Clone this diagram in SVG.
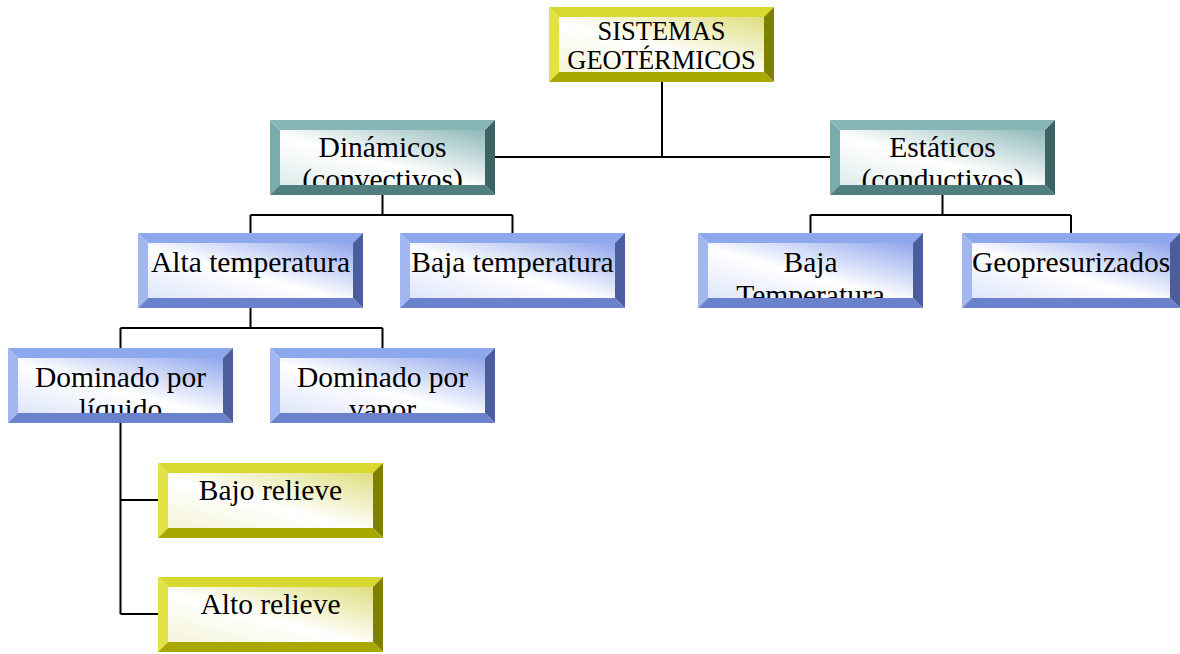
<svg xmlns="http://www.w3.org/2000/svg" xmlns:xlink="http://www.w3.org/1999/xlink" width="1180" height="654" viewBox="0 0 1180 654">
<style>
text{font-family:"Liberation Serif","Times New Roman",serif;font-size:29.5px;fill:#000;text-anchor:middle}
.sm{font-size:26.5px}
.c{stroke:#000;stroke-width:2;fill:none}
</style>
<defs>
<linearGradient id="gY" x1="1" y1="0" x2="0" y2="1"><stop offset="0" stop-color="#dede80"/><stop offset="0.55" stop-color="#ffffff"/><stop offset="1" stop-color="#f4f4d8"/></linearGradient>
<linearGradient id="gT" x1="1" y1="0" x2="0" y2="1"><stop offset="0" stop-color="#8fb8b8"/><stop offset="0.55" stop-color="#ffffff"/><stop offset="1" stop-color="#e0ecec"/></linearGradient>
<linearGradient id="gB" x1="1" y1="0" x2="0" y2="1"><stop offset="0" stop-color="#90a6ec"/><stop offset="0.55" stop-color="#ffffff"/><stop offset="1" stop-color="#dfe6fb"/></linearGradient>
<rect id="faceY" x="10" y="10" width="205" height="55" fill="url(#gY)"/>
<rect id="faceT" x="10" y="10" width="205" height="55" fill="url(#gT)"/>
<rect id="faceB" x="10" y="10" width="205" height="55" fill="url(#gB)"/>
<rect id="faceB2" x="10" y="10" width="198" height="55" fill="url(#gB)"/>
<g id="frameY">
<polygon points="0,0 225,0 215,10 10,10" fill="#d8d830"/>
<polygon points="0,0 10,10 10,65 0,75" fill="#e2e244"/>
<polygon points="225,0 225,75 215,65 215,10" fill="#808000"/>
<polygon points="0,75 10,65 215,65 225,75" fill="#a8a800"/>
</g>
<g id="frameT">
<polygon points="0,0 225,0 215,10 10,10" fill="#88b6b6"/>
<polygon points="0,0 10,10 10,65 0,75" fill="#7aacac"/>
<polygon points="225,0 225,75 215,65 215,10" fill="#3d6464"/>
<polygon points="0,75 10,65 215,65 225,75" fill="#4f7f7f"/>
</g>
<g id="frameB">
<polygon points="0,0 225,0 215,10 10,10" fill="#8ea8ee"/>
<polygon points="0,0 10,10 10,65 0,75" fill="#a2b7f2"/>
<polygon points="225,0 225,75 215,65 215,10" fill="#4b5d9c"/>
<polygon points="0,75 10,65 215,65 225,75" fill="#6a82cc"/>
</g>
<g id="frameB2">
<polygon points="0,0 218,0 208,10 10,10" fill="#8ea8ee"/>
<polygon points="0,0 10,10 10,65 0,75" fill="#a2b7f2"/>
<polygon points="218,0 218,75 208,65 208,10" fill="#4b5d9c"/>
<polygon points="0,75 10,65 208,65 218,75" fill="#6a82cc"/>
</g>
</defs>
<rect width="1180" height="654" fill="#fff"/>
<g id="connectors">
<path class="c" d="M662,82 V157 M495,157 H830"/>
<path class="c" d="M382.5,195 V215 M250.5,215 H512.5 M250.5,215 V233 M512.5,215 V233"/>
<path class="c" d="M942.5,195 V215 M810.5,215 H1071 M810.5,215 V233 M1071,215 V233"/>
<path class="c" d="M250.5,308 V328 M120.5,328 H382.5 M120.5,328 V348 M382.5,328 V348"/>
<path class="c" d="M120.5,423 V614 M120.5,500 H158 M120.5,614 H158"/>
</g>
<g id="n-sistemas"><svg x="549" y="7" width="225" height="75"><use xlink:href="#faceY"/><text class="sm" x="112.5" y="33">SISTEMAS</text><text class="sm" x="112.5" y="62">GEOTÉRMICOS</text><use xlink:href="#frameY"/></svg></g>
<g id="n-dinamicos"><svg x="270" y="120" width="225" height="75"><use xlink:href="#faceT"/><text x="112.5" y="37">Dinámicos</text><text x="112.5" y="69">(convectivos)</text><use xlink:href="#frameT"/></svg></g>
<g id="n-estaticos"><svg x="830" y="120" width="225" height="75"><use xlink:href="#faceT"/><text x="112.5" y="37">Estáticos</text><text x="112.5" y="69">(conductivos)</text><use xlink:href="#frameT"/></svg></g>
<g id="n-alta"><svg x="138" y="233" width="225" height="75"><use xlink:href="#faceB"/><text x="112.5" y="39">Alta temperatura</text><use xlink:href="#frameB"/></svg></g>
<g id="n-baja1"><svg x="400" y="233" width="225" height="75"><use xlink:href="#faceB"/><text x="112.5" y="39">Baja temperatura</text><use xlink:href="#frameB"/></svg></g>
<g id="n-baja2"><svg x="698" y="233" width="225" height="75"><use xlink:href="#faceB"/><text x="112.5" y="39">Baja</text><text x="112.5" y="72">Temperatura</text><use xlink:href="#frameB"/></svg></g>
<g id="n-geo"><svg x="962" y="233" width="218" height="75"><use xlink:href="#faceB2"/><text x="109" y="39">Geopresurizados</text><use xlink:href="#frameB2"/></svg></g>
<g id="n-liquido"><svg x="8" y="348" width="225" height="75"><use xlink:href="#faceB"/><text x="112.5" y="39">Dominado por</text><text x="112.5" y="71">líquido</text><use xlink:href="#frameB"/></svg></g>
<g id="n-vapor"><svg x="270" y="348" width="225" height="75"><use xlink:href="#faceB"/><text x="112.5" y="39">Dominado por</text><text x="112.5" y="71">vapor</text><use xlink:href="#frameB"/></svg></g>
<g id="n-bajo"><svg x="158" y="463" width="225" height="75"><use xlink:href="#faceY"/><text x="112.5" y="37">Bajo relieve</text><use xlink:href="#frameY"/></svg></g>
<g id="n-alto"><svg x="158" y="577" width="225" height="75"><use xlink:href="#faceY"/><text x="112.5" y="37">Alto relieve</text><use xlink:href="#frameY"/></svg></g>
</svg>
